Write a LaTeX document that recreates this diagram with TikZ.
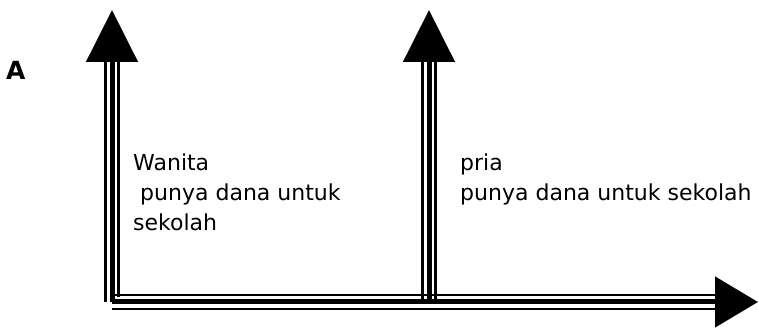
\documentclass[tikz,border=0pt]{standalone}
\usepackage{fontspec}
\setmainfont{DejaVu Sans}
\usetikzlibrary{arrows.meta,calc}

\tikzset{
  mid/.style={line width=5pt},
  side/.style={line width=2.5pt},
  bigtip/.style={-{Triangle[length=52pt,width=51pt]}},
  lbl/.style={anchor=north west,align=left,inner sep=0pt,font=\fontsize{22}{30}\selectfont}
}

\begin{document}
\begin{tikzpicture}[x=1pt,y=1pt]
  \useasboundingbox (0,0) rectangle (759,328);
  \coordinate (o) at (112,26);
  \coordinate (m) at (429,26);
  \coordinate (ta) at (112,318);
  \coordinate (tb) at (429,318);
  \coordinate (tx) at (758,26);
  % left axis
  \draw[mid,bigtip] (o) -- (ta);
  \draw[side] ($(o)+(-6.5,0)$) -- ($(ta)+(-6.5,-52)$);
  \draw[side] ($(o)+(6.5,5)$) -- ($(ta)+(6.5,-52)$);
  % middle axis
  \draw[mid,bigtip] (m) -- (tb);
  \draw[side] ($(m)+(-6.5,0)$) -- ($(tb)+(-6.5,-52)$);
  \draw[side] ($(m)+(6.5,0)$) -- ($(tb)+(6.5,-52)$);
  % bottom axis
  \draw[mid,-{Triangle[length=43pt,width=50pt]}] (o) -- (tx);
  \draw[side] ($(o)+(0,7)$) -- ($(tx)+(-43,7)$);
  \draw[side] ($(o)+(0,-7)$) -- ($(tx)+(-43,-7)$);
  % labels
  \node[anchor=base west,inner sep=0pt,font=\fontsize{25}{25}\selectfont\bfseries] (lblA) at (6,248) {A};
  \node[lbl] (wanita) at (133,174) {Wanita\\\ punya dana untuk\\sekolah};
  \node[lbl] (pria) at (460,174) {pria\\punya dana untuk sekolah};
\end{tikzpicture}
\end{document}
